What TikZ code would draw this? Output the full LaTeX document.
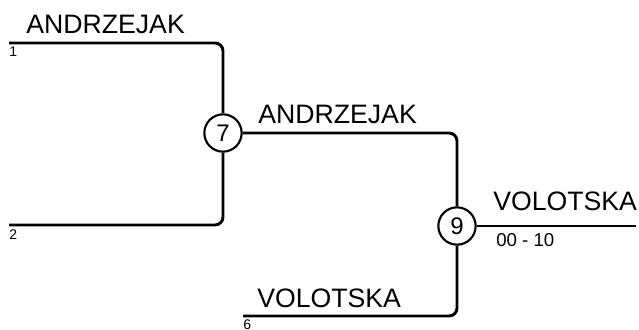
\documentclass[tikz,border=0pt]{standalone}
\usepackage{fontspec}
\setmainfont{Liberation Sans}
\begin{document}
\begin{tikzpicture}[x=0.75pt,y=-0.75pt,
  wire/.style={line width=2.2pt,rounded corners=6pt},
  matchnode/.style={circle,draw,line width=1.6pt,minimum size=28pt,inner sep=0pt,fill=white,font=\fontsize{18}{18}\selectfont},
  player/.style={anchor=base west,inner sep=0pt,font=\fontsize{20}{20}\selectfont},
  seedlabel/.style={anchor=north west,inner sep=0pt,font=\fontsize{10.5}{10.5}\selectfont},
  scorelabel/.style={anchor=north west,inner sep=0pt,font=\fontsize{14}{14}\selectfont}]
\useasboundingbox (0,0) rectangle (639,329);
\node[matchnode] (n7) at (223,133) {7};
\node[matchnode] (n9) at (457,226) {9};
\coordinate (s1) at (9,43);
\coordinate (s2) at (9,225);
\coordinate (s6) at (243,316);
\coordinate (out) at (636,226);
\draw[wire] (s1) -- (n7.north |- s1) -- (n7.north);
\draw[wire] (s2) -- (n7.south |- s2) -- (n7.south);
\draw[wire] (n7.east) -- (n9.north |- n7.east) -- (n9.north);
\draw[wire] (s6) -- (n9.south |- s6) -- (n9.south);
\draw[wire] (n9.east) -- (out);
\node[player] (l1) at (26,33) {ANDRZEJAK};
\node[seedlabel] (d1) at (9,47) {1};
\node[seedlabel] (d2) at (9,229) {2};
\node[player] (l7) at (258,123) {ANDRZEJAK};
\node[player] (l6) at (257,307) {VOLOTSKA};
\node[seedlabel] (d6) at (243,319) {6};
\node[player] (l9) at (493,210) {VOLOTSKA};
\node[scorelabel] (sc) at (496,233) {00 - 10};
\end{tikzpicture}
\end{document}
